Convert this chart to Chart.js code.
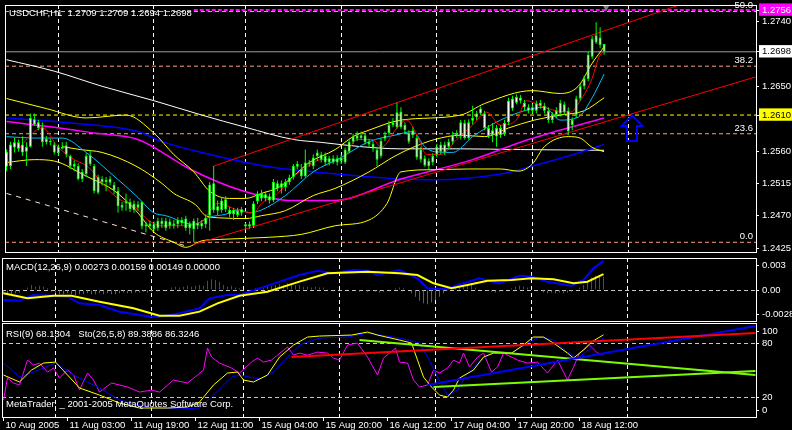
<!DOCTYPE html>
<html>
<head>
<meta charset="utf-8">
<title>USDCHF,H1</title>
<script src="https://cdn.jsdelivr.net/npm/chart.js@4.4.1/dist/chart.umd.min.js"></script>
<style>
  html, body { margin: 0; padding: 0; background: #000; }
  body { width: 792px; height: 430px; position: relative; overflow: hidden; }
  canvas { position: absolute; left: 0; }
</style>
</head>
<body>
<canvas id="mainChart" width="792" height="257" style="top:0"></canvas>
<canvas id="macdChart" width="792" height="65" style="top:257px"></canvas>
<canvas id="rsiChart" width="792" height="108" style="top:322px"></canvas>
<script>
// ---- data (bar index 0 = 10 Aug 2005, hourly bars) ----
const SYMBOL = "USDCHF", PERIOD = "H1";
const TIME_LABELS = ["10 Aug 2005", "11 Aug 03:00", "11 Aug 19:00", "12 Aug 11:00", "15 Aug 04:00",
  "15 Aug 20:00", "16 Aug 12:00", "17 Aug 04:00", "17 Aug 20:00", "18 Aug 12:00"];
const LABEL_BARS = [0, 16, 32, 48, 64, 80, 96, 112, 128, 144];
const DAY_BREAKS = [13, 37, 60, 84, 108, 132, 156];

const OPEN = [
  1.2538, 1.2539, 1.2572, 1.2563, 1.2569, 1.2559, 1.2566, 1.2604, 1.2600, 1.2593,
  1.2572, 1.2574, 1.2569, 1.2557, 1.2566, 1.2568, 1.2553, 1.2542, 1.2539, 1.2521,
  1.2528, 1.2554, 1.2539, 1.2502, 1.2521, 1.2517, 1.2521, 1.2513, 1.2505, 1.2481,
  1.2487, 1.2489, 1.2478, 1.2481, 1.2489, 1.2455, 1.2459, 1.2451, 1.2453, 1.2463,
  1.2453, 1.2462, 1.2456, 1.2458, 1.2464, 1.2466, 1.2453, 1.2451, 1.2460, 1.2455,
  1.2458, 1.2470, 1.2515, 1.2477, 1.2478, 1.2493, 1.2478, 1.2472, 1.2477, 1.2474,
  1.2458, 1.2455, 1.2456, 1.2490, 1.2501, 1.2494, 1.2497, 1.2491, 1.2515, 1.2509,
  1.2510, 1.2517, 1.2524, 1.2542, 1.2535, 1.2525, 1.2542, 1.2539, 1.2553, 1.2555,
  1.2553, 1.2544, 1.2550, 1.2544, 1.2551, 1.2544, 1.2559, 1.2573, 1.2577, 1.2582,
  1.2582, 1.2573, 1.2570, 1.2562, 1.2553, 1.2577, 1.2585, 1.2596, 1.2593, 1.2615,
  1.2596, 1.2585, 1.2582, 1.2578, 1.2562, 1.2550, 1.2539, 1.2544, 1.2555, 1.2559,
  1.2569, 1.2566, 1.2573, 1.2582, 1.2580, 1.2599, 1.2578, 1.2602, 1.2607, 1.2612,
  1.2612, 1.2592, 1.2582, 1.2592, 1.2582, 1.2585, 1.2600, 1.2619, 1.2627, 1.2634,
  1.2627, 1.2621, 1.2616, 1.2616, 1.2627, 1.2623, 1.2616, 1.2603, 1.2610, 1.2612,
  1.2625, 1.2616, 1.2596, 1.2610, 1.2633, 1.2650, 1.2660, 1.2691, 1.2711, 1.2718,
  1.2709];
const HIGH = [
  1.2562, 1.2573, 1.2578, 1.2576, 1.2580, 1.2572, 1.2612, 1.2612, 1.2603, 1.2600,
  1.2581, 1.2577, 1.2572, 1.2569, 1.2572, 1.2573, 1.2555, 1.2547, 1.2543, 1.2535,
  1.2557, 1.2561, 1.2542, 1.2527, 1.2525, 1.2524, 1.2525, 1.2517, 1.2510, 1.2489,
  1.2501, 1.2494, 1.2491, 1.2490, 1.2490, 1.2462, 1.2463, 1.2462, 1.2467, 1.2467,
  1.2467, 1.2466, 1.2464, 1.2468, 1.2468, 1.2470, 1.2462, 1.2466, 1.2467, 1.2464,
  1.2472, 1.2517, 1.2539, 1.2491, 1.2496, 1.2497, 1.2482, 1.2481, 1.2481, 1.2482,
  1.2460, 1.2462, 1.2490, 1.2504, 1.2506, 1.2504, 1.2501, 1.2521, 1.2519, 1.2519,
  1.2521, 1.2527, 1.2542, 1.2546, 1.2542, 1.2562, 1.2548, 1.2555, 1.2562, 1.2559,
  1.2558, 1.2553, 1.2554, 1.2554, 1.2555, 1.2565, 1.2577, 1.2584, 1.2587, 1.2587,
  1.2585, 1.2577, 1.2574, 1.2566, 1.2578, 1.2587, 1.2602, 1.2606, 1.2627, 1.2621,
  1.2600, 1.2589, 1.2593, 1.2582, 1.2566, 1.2554, 1.2550, 1.2557, 1.2570, 1.2573,
  1.2573, 1.2577, 1.2587, 1.2589, 1.2603, 1.2603, 1.2604, 1.2623, 1.2616, 1.2622,
  1.2616, 1.2596, 1.2599, 1.2596, 1.2596, 1.2603, 1.2634, 1.2637, 1.2639, 1.2638,
  1.2631, 1.2625, 1.2625, 1.2630, 1.2631, 1.2627, 1.2621, 1.2614, 1.2621, 1.2631,
  1.2629, 1.2621, 1.2607, 1.2637, 1.2654, 1.2665, 1.2698, 1.2720, 1.2739, 1.2732,
  1.2709];
const LOW = [
  1.2532, 1.2535, 1.2558, 1.2559, 1.2553, 1.2539, 1.2565, 1.2595, 1.2589, 1.2566,
  1.2569, 1.2568, 1.2555, 1.2553, 1.2562, 1.2551, 1.2535, 1.2532, 1.2519, 1.2517,
  1.2524, 1.2539, 1.2501, 1.2500, 1.2512, 1.2504, 1.2512, 1.2500, 1.2474, 1.2477,
  1.2477, 1.2475, 1.2474, 1.2477, 1.2451, 1.2447, 1.2451, 1.2448, 1.2449, 1.2453,
  1.2449, 1.2452, 1.2452, 1.2453, 1.2456, 1.2449, 1.2444, 1.2433, 1.2451, 1.2451,
  1.2453, 1.2449, 1.2474, 1.2471, 1.2474, 1.2475, 1.2468, 1.2464, 1.2468, 1.2470,
  1.2452, 1.2452, 1.2453, 1.2486, 1.2490, 1.2490, 1.2487, 1.2489, 1.2504, 1.2501,
  1.2504, 1.2513, 1.2520, 1.2535, 1.2521, 1.2523, 1.2538, 1.2535, 1.2546, 1.2544,
  1.2540, 1.2540, 1.2542, 1.2540, 1.2542, 1.2542, 1.2557, 1.2570, 1.2574, 1.2576,
  1.2569, 1.2565, 1.2559, 1.2539, 1.2550, 1.2574, 1.2582, 1.2593, 1.2591, 1.2591,
  1.2585, 1.2570, 1.2578, 1.2548, 1.2544, 1.2538, 1.2535, 1.2540, 1.2551, 1.2555,
  1.2554, 1.2562, 1.2569, 1.2578, 1.2576, 1.2576, 1.2576, 1.2597, 1.2603, 1.2610,
  1.2589, 1.2578, 1.2572, 1.2566, 1.2578, 1.2581, 1.2596, 1.2616, 1.2625, 1.2626,
  1.2616, 1.2612, 1.2612, 1.2612, 1.2619, 1.2612, 1.2599, 1.2599, 1.2606, 1.2608,
  1.2610, 1.2582, 1.2589, 1.2606, 1.2630, 1.2646, 1.2657, 1.2688, 1.2709, 1.2703,
  1.2694];
const CLOSE = [
  1.2559, 1.2569, 1.2565, 1.2572, 1.2558, 1.2566, 1.2606, 1.2597, 1.2592, 1.2572,
  1.2577, 1.2572, 1.2558, 1.2566, 1.2563, 1.2555, 1.2539, 1.2538, 1.2521, 1.2531,
  1.2553, 1.2542, 1.2504, 1.2524, 1.2517, 1.2520, 1.2516, 1.2505, 1.2483, 1.2485,
  1.2490, 1.2479, 1.2487, 1.2486, 1.2455, 1.2458, 1.2455, 1.2458, 1.2463, 1.2458,
  1.2463, 1.2456, 1.2459, 1.2464, 1.2460, 1.2453, 1.2459, 1.2463, 1.2456, 1.2460,
  1.2467, 1.2513, 1.2478, 1.2483, 1.2491, 1.2479, 1.2472, 1.2478, 1.2471, 1.2479,
  1.2455, 1.2458, 1.2487, 1.2501, 1.2494, 1.2500, 1.2491, 1.2517, 1.2508, 1.2515,
  1.2517, 1.2523, 1.2539, 1.2538, 1.2525, 1.2544, 1.2544, 1.2551, 1.2558, 1.2548,
  1.2544, 1.2550, 1.2544, 1.2550, 1.2546, 1.2562, 1.2573, 1.2580, 1.2582, 1.2578,
  1.2572, 1.2569, 1.2563, 1.2548, 1.2574, 1.2582, 1.2597, 1.2600, 1.2614, 1.2593,
  1.2589, 1.2573, 1.2589, 1.2551, 1.2548, 1.2540, 1.2546, 1.2553, 1.2566, 1.2569,
  1.2558, 1.2573, 1.2582, 1.2585, 1.2600, 1.2578, 1.2600, 1.2606, 1.2612, 1.2619,
  1.2592, 1.2581, 1.2589, 1.2580, 1.2592, 1.2599, 1.2630, 1.2633, 1.2635, 1.2630,
  1.2621, 1.2616, 1.2621, 1.2626, 1.2623, 1.2616, 1.2603, 1.2610, 1.2616, 1.2627,
  1.2614, 1.2587, 1.2603, 1.2633, 1.2650, 1.2661, 1.2694, 1.2716, 1.2721, 1.2707,
  1.2698];

// moving averages / bands on the price panel: [bar index], [price]
const MA_WHITE_X = [0, 12, 24, 37, 49, 60, 72, 79, 89, 99, 114, 129, 150];
const MA_WHITE_Y = [1.2687, 1.2671, 1.2650, 1.2630, 1.2610, 1.2593, 1.2576, 1.2572, 1.2566, 1.2563, 1.2563, 1.2562, 1.2561];
const MA_BLUE_X = [0, 16, 33, 39, 49, 66, 83, 99, 108, 124, 132, 141, 150];
const MA_BLUE_Y = [1.2606, 1.2599, 1.2587, 1.2573, 1.2558, 1.2538, 1.2528, 1.2521, 1.2520, 1.2528, 1.2539, 1.2553, 1.2569];
const MA_MAGENTA_X = [0, 12, 22, 33, 46, 59, 72, 82, 99, 117, 131, 150];
const MA_MAGENTA_Y = [1.2601, 1.2593, 1.2585, 1.2576, 1.2535, 1.2505, 1.2491, 1.2491, 1.2521, 1.2548, 1.2576, 1.2606];
const BAND_UP_X = [0, 10, 20, 30, 37, 42, 47, 51, 56, 60, 64, 68.5, 72, 76, 82.5, 87, 91, 99, 114, 120, 132, 139, 143.5, 147, 150];
const BAND_UP_Y = [1.2633, 1.2619, 1.2606, 1.2610, 1.2585, 1.2555, 1.2531, 1.2504, 1.2494, 1.2494, 1.2501, 1.2510, 1.2525,
  1.2544, 1.2562, 1.2580, 1.2589, 1.2603, 1.2610, 1.2626, 1.2644, 1.2640, 1.2650, 1.2682, 1.2705];
const BAND_MID_X = [14, 18.5, 24, 32.5, 39, 42, 47.5, 50, 53.5, 60, 64, 70, 77, 82.5, 91, 97.5, 102, 107.5, 114, 120, 126, 132.5, 139, 145, 150];
const BAND_MID_Y = [1.2566, 1.2562, 1.2558, 1.2539, 1.2515, 1.2501, 1.2485, 1.2470, 1.2467, 1.2466, 1.2470, 1.2477, 1.2498,
  1.2508, 1.2531, 1.2553, 1.2565, 1.2576, 1.2582, 1.2580, 1.2592, 1.2603, 1.2610, 1.2616, 1.2634];
const BAND_LOW_X = [0, 7, 12, 20, 27, 32.5, 37, 42, 45, 49, 53.5, 66, 74, 82.5, 91, 95.5, 99, 107.5, 116, 124, 128.5, 132, 135, 141, 144, 147, 150];
const BAND_LOW_Y = [1.2544, 1.2548, 1.2546, 1.2525, 1.2505, 1.2477, 1.2447, 1.2433, 1.2426, 1.2435, 1.2437, 1.2440, 1.2444,
  1.2456, 1.2464, 1.2487, 1.2531, 1.2534, 1.2535, 1.2535, 1.2532, 1.2542, 1.2566, 1.2580, 1.2578, 1.2565, 1.2559];
const MA_CYAN_X = [0, 7, 14, 20, 27, 32.5, 37, 40, 47, 51, 55, 58.5, 61, 64, 70, 77, 84, 91, 97.5, 102, 105, 107.5, 112, 117, 124, 130, 135, 139, 143.5, 147, 150];
const MA_CYAN_Y = [1.2580, 1.2578, 1.2578, 1.2558, 1.2525, 1.2498, 1.2474, 1.2470, 1.2458, 1.2468, 1.2472, 1.2478, 1.2474,
  1.2478, 1.2498, 1.2531, 1.2551, 1.2573, 1.2582, 1.2587, 1.2566, 1.2559, 1.2558, 1.2580, 1.2603, 1.2616, 1.2621, 1.2603,
  1.2607, 1.2634, 1.2667];
const MA_RED_X = [3, 6, 9, 13, 17, 20.5, 24, 28, 32, 35.5, 39, 44, 49, 53, 58, 62, 64, 68, 72, 75.5, 79, 84, 88, 92, 94, 98,
  100.5, 103, 105.5, 109, 113, 117, 120.5, 124, 128, 130.5, 134, 138, 141.5, 144, 147, 148.5, 150];
const MA_RED_Y = [1.2562, 1.2582, 1.2592, 1.2565, 1.2548, 1.2538, 1.2515, 1.2494, 1.2483, 1.2464, 1.2456, 1.2456, 1.2462,
  1.2487, 1.2478, 1.2474, 1.2487, 1.2501, 1.2524, 1.2538, 1.2548, 1.2548, 1.2576, 1.2576, 1.2565, 1.2592, 1.2603, 1.2582,
  1.2555, 1.2555, 1.2576, 1.2596, 1.2614, 1.2596, 1.2603, 1.2630, 1.2623, 1.2616, 1.2614, 1.2630, 1.2661, 1.2688, 1.2701];

// drawn objects: [bar0, price0, bar1, price1]
const CHANNEL_UP = [52, 1.2539, 175, 1.2775];
const CHANNEL_LOW = [47, 1.2430, 188, 1.2663];
const OLD_TREND = [0, 1.2501, 45, 1.2428];
const FIB_LEVELS = [0.0, 23.6, 38.2, 50.0];
const FIB_PRICES = [1.2433, 1.2584, 1.2678, 1.2754];
const SUPPORT = 1.2610, BID = 1.2698, ALERT = 1.2756, ALERT_FROM = 47;
const ARROW_BAR = 157, ARROW_PRICE = 1.2592;
const SHIFT_BAR = 150.5, SHIFT_PRICE = 1.2760;
const PRICE_TICKS = [1.2425, 1.2470, 1.2515, 1.2560, 1.2650, 1.2740];
const MARKER_PRICES = [1.2610, 1.2698, 1.2756];
const MARKER_BG = ["#ffff00", "#ffffff", "#ff00ff"];
const MARKER_FG = ["#000000", "#000000", "#ffffff"];

// MACD(12,26,9)
const MACD_INFO = [0.00273, 0.00159, 0.00149, 0.00000];
const MACD_X = [0, 4, 7.5, 12, 16, 19, 24, 29, 34, 37, 39, 44, 49, 51.5, 56, 59, 64, 69, 74, 78.5, 82.5, 87.5, 91, 93.5, 99,
  103.5, 106, 111, 113.5, 119, 124, 129, 132, 136, 142, 145, 147.5, 150];
const MACD_Y = [-0.0012, -0.0013, -0.0006, -0.0007, -0.0008, -0.0016, -0.0018, -0.0026, -0.0030, -0.0032, -0.0032, -0.0028,
  -0.0022, -0.0010, -0.0006, -0.0006, 0.0002, 0.0010, 0.0018, 0.0023, 0.0020, 0.0024, 0.0023, 0.0018, 0.0024, 0.0014,
  0.0002, 0.0001, 0.0006, 0.0014, 0.0008, 0.0017, 0.0016, 0.0010, 0.0005, 0.0012, 0.0026, 0.0035];
const SIGNAL_X = [0, 6, 12.5, 17, 24, 32.5, 39, 44, 49, 53.5, 59, 66, 74, 81, 91, 99, 103.5, 107.5, 112, 116, 121, 127, 132,
  137.5, 142.5, 146, 150];
const SIGNAL_Y = [-0.0004, -0.0010, -0.0007, -0.0007, -0.0014, -0.0022, -0.0031, -0.0031, -0.0026, -0.0016, -0.0007, -0.0002,
  0.0010, 0.0020, 0.0022, 0.0020, 0.0018, 0.0008, 0.0002, 0.0006, 0.0011, 0.0012, 0.0014, 0.0013, 0.0008, 0.0010, 0.0019];
const HIST = [
  -0.0005, -0.0006, -0.0005, -0.0004, -0.0003, 0.0001, 0.0003, 0.0006, 0.0004, 0.0005,
  0.0004, 0.0002, -0.0002, -0.0004, -0.0005, -0.0005, -0.0004, -0.0005, -0.0006, -0.0005,
  -0.0005, -0.0004, -0.0005, -0.0005, -0.0004, -0.0005, -0.0004, -0.0005, -0.0005, -0.0004,
  -0.0003, -0.0004, -0.0004, -0.0003, -0.0003, -0.0002, -0.0003, -0.0002, -0.0001, 0.0000,
  0.0001, 0.0001, 0.0003, 0.0004, 0.0003, 0.0004, 0.0005, 0.0004, 0.0005, 0.0006,
  0.0005, 0.0011, 0.0013, 0.0012, 0.0010, 0.0006, 0.0004, 0.0005, 0.0003, 0.0002,
  0.0001, 0.0000, 0.0001, 0.0002, 0.0003, 0.0002, 0.0004, 0.0005, 0.0006, 0.0007,
  0.0006, 0.0008, 0.0007, 0.0006, 0.0006, 0.0004, 0.0004, 0.0003, 0.0004, 0.0003,
  0.0003, 0.0001, 0.0000, 0.0001, 0.0000, 0.0000, 0.0001, 0.0000, -0.0001, -0.0002,
  -0.0001, -0.0002, -0.0001, -0.0002, -0.0003, -0.0002, 0.0000, 0.0001, 0.0002, 0.0003,
  0.0002, 0.0000, -0.0004, -0.0008, -0.0013, -0.0016, -0.0017, -0.0015, -0.0012, -0.0008,
  -0.0004, -0.0001, 0.0002, 0.0004, 0.0003, 0.0005, 0.0006, 0.0008, 0.0003, 0.0001,
  0.0000, -0.0001, -0.0002, -0.0003, -0.0002, -0.0001, 0.0001, 0.0002, 0.0004, 0.0005,
  0.0004, 0.0003, 0.0001, 0.0000, -0.0001, -0.0003, -0.0004, -0.0003, -0.0004, -0.0003,
  -0.0004, -0.0003, -0.0002, 0.0001, 0.0003, 0.0006, 0.0011, 0.0015, 0.0017, 0.0018,
  0.0016];
const MACD_TICKS = [-0.00288, 0, 0.003];
const MACD_TICK_TEXT = ["-0.00288", "0.00", "0.003"];

// RSI(9) and Stochastic(26,5,8)
const RSI_INFO = "RSI(9) 68.1304   Sto(26,5,8) 89.3886 86.3246";
const RSI_X = [0, 1, 2.5, 4, 6, 7.5, 9, 11, 12.5, 14, 16, 17.5, 19, 21, 22.5, 24, 27, 31, 34, 37, 39, 42.5, 46, 48.5, 50, 51,
  52, 54, 57, 59, 62, 63.5, 65, 67, 68.5, 71, 72.5, 74, 76, 78.5, 81, 82.5, 84, 86, 88.5, 91, 93.5, 95, 98, 99, 101, 102.5,
  104, 106, 107.5, 109, 111, 112.5, 114, 115, 116.5, 118.5, 120, 122, 123.5, 125, 127, 128.5, 131, 133.5, 136, 138.5, 141,
  142.5, 144, 146.5, 148.5, 150];
const RSI_Y = [17.4, 41.7, 36.2, 34.0, 61.5, 56.0, 58.2, 48.3, 52.7, 41.7, 50.5, 45.0, 28.4, 47.2, 39.5, 26.2, 36.2, 31.8,
  26.2, 28.4, 26.2, 39.5, 36.2, 45.0, 50.5, 74.7, 64.8, 58.2, 52.7, 47.2, 59.3, 63.7, 59.3, 61.5, 67.0, 75.9, 67.0, 69.2,
  67.0, 70.3, 69.2, 63.7, 61.5, 78.1, 80.3, 64.8, 45.0, 63.7, 74.7, 59.3, 58.2, 39.5, 31.8, 34.0, 50.5, 47.2, 52.7, 61.5,
  58.2, 69.2, 53.8, 64.8, 69.2, 48.3, 53.8, 69.2, 64.8, 61.5, 58.2, 59.3, 47.2, 61.5, 39.5, 53.8, 69.2, 78.1, 69.2, 68.1];
const STO_X = [0, 4, 7, 10, 13, 16, 19, 24, 29, 34, 41, 46, 49, 52.5, 56, 58.5, 60, 62.5, 66, 69, 72.5, 76, 79, 87, 91, 93.5,
  99, 102, 103.5, 105, 107, 109, 111, 112.5, 114, 117.5, 120, 122.5, 127, 130, 132.5, 135, 137.5, 141, 142.5, 145, 147, 150];
const STO_Y = [45.0, 37.3, 50.5, 58.2, 59.3, 45.0, 30.7, 22.9, 14.1, 8.6, 8.6, 9.7, 15.2, 34.0, 47.2, 48.3, 39.5, 37.3, 45.0,
  64.8, 78.1, 86.9, 88.0, 89.1, 92.4, 89.1, 83.6, 80.3, 61.5, 42.8, 31.8, 22.9, 20.7, 28.4, 41.7, 50.5, 64.8, 69.2, 69.2,
  78.1, 86.9, 86.9, 80.3, 69.2, 63.7, 72.6, 81.4, 89.4];
const STO_SIG_X = [0, 4, 7.5, 13, 17.5, 24, 29, 36, 44, 49, 52.5, 57, 59, 64, 67.5, 71, 74, 79, 86, 91, 99, 104, 106, 108.5,
  111, 113.5, 116, 118.5, 122, 127, 131, 134, 137.5, 141, 143.5, 147, 150];
const STO_SIG_Y = [58.2, 42.8, 48.3, 58.2, 45.0, 30.7, 17.4, 9.7, 7.5, 8.6, 22.9, 42.8, 45.0, 40.6, 48.3, 64.8, 78.1, 85.8,
  86.9, 91.3, 85.8, 80.3, 64.8, 42.8, 22.9, 28.4, 47.2, 58.2, 69.2, 69.2, 80.3, 86.9, 83.6, 70.3, 63.7, 74.7, 86.3];
const RSI_TREND_RED = [72, 64.8, 188, 91.3];
const RSI_TREND_BLUE = [106, 34.0, 188, 99.0];
const RSI_TREND_GREEN_A = [89, 83.6, 188, 45.0];
const RSI_TREND_GREEN_B = [107.5, 31.8, 188, 49.4];
const RSI_LEVELS = [20, 80];
const RSI_LABEL_AT = [6.4, 20, 80, 93.5];   // MT4 puts "0" and "100" inside the panel
const RSI_LABEL_TEXT = ["0", "20", "80", "100"];
const COPYRIGHT = "MetaTrader, _ 2001-2005 MetaQuotes Software Corp.";

// ---- layout / helpers ----
const XMIN = -0.375, XMAX = 188.125;
const AXIS_W = 36;
const FONT = { family: "Liberation Sans", size: 9.5 };
const CSS_FONT = "9.5px 'Liberation Sans'";
const LIME = "#00ff00", FIB = "#ff9f7a";
Chart.defaults.font.family = "Liberation Sans";
Chart.defaults.font.size = 9.5;

const last = CLOSE.length - 1;
const p4 = v => v.toFixed(4);
const pts = (xs, ys) => xs.map((x, i) => ({ x: x, y: ys[i] }));
const seg = s => [{ x: s[0], y: s[1] }, { x: s[2], y: s[3] }];
const hline = (y, x0) => [{ x: x0 === undefined ? XMIN : x0, y: y }, { x: XMAX, y: y }];

function line(data, color, width, dash, smooth, order) {
  return {
    type: "line", data: data, borderColor: color, borderWidth: width || 1, borderDash: dash || [],
    pointRadius: 0, fill: false, tension: 0, cubicInterpolationMode: smooth ? "monotone" : "default",
    order: order === undefined ? 3 : order
  };
}

// one histogram column per bar; the sign picks the dataset (and so the colour)
function histBars(keep, color) {
  return {
    type: "bar", data: HIST.map((v, i) => ({ x: i, y: keep(v) ? v : null })),
    backgroundColor: color, borderColor: color, borderWidth: 0, barThickness: 1,
    grouped: false, inflateAmount: 0, order: 2
  };
}

function gridX() {
  return {
    type: "linear", min: XMIN, max: XMAX, offset: false,
    afterBuildTicks: s => { s.ticks = DAY_BREAKS.map(v => ({ value: v })); },
    afterFit: s => { s.height = 0; s.paddingLeft = 0; s.paddingRight = 0; },
    ticks: { display: false },
    grid: { color: "#ffffff", lineWidth: 1, drawTicks: false, offset: false },
    border: { display: false, dash: [4, 3] }
  };
}

function fitY(s) { s.width = AXIS_W; s.paddingTop = 0; s.paddingBottom = 0; }

const frame = {
  id: "frame",
  afterDraw(chart) {
    const a = chart.chartArea, c = chart.ctx;
    c.save();
    c.strokeStyle = "#ffffff";
    c.lineWidth = 1;
    c.strokeRect(a.left + 0.5, a.top + 0.5, a.right - a.left, a.bottom - a.top);
    c.restore();
  }
};

const notes = {
  id: "notes",
  afterDraw(chart) {
    const items = chart.options.plugins.notes || [];
    const a = chart.chartArea, c = chart.ctx;
    c.save();
    c.font = CSS_FONT;
    c.fillStyle = "#ffffff";
    c.textBaseline = "middle";
    c.textAlign = "left";
    items.forEach(it => c.fillText(it.text, a.left + it.dx, a.top + it.dy));
    c.restore();
  }
};

const fibText = {
  id: "fibText",
  afterDatasetsDraw(chart) {
    const ys = chart.scales.y, a = chart.chartArea, c = chart.ctx;
    c.save();
    c.font = CSS_FONT;
    c.fillStyle = "#ffffff";
    c.textAlign = "right";
    c.textBaseline = "bottom";
    FIB_LEVELS.forEach((lv, i) => c.fillText(lv.toFixed(1), a.right - 3, ys.getPixelForValue(FIB_PRICES[i]) - 1));
    c.restore();
  }
};

function arrowImage() {
  const cv = document.createElement("canvas");
  cv.width = 24; cv.height = 28;
  const g = cv.getContext("2d");
  g.strokeStyle = "#0000ff";
  g.lineWidth = 2;
  g.beginPath();
  g.moveTo(12, 1.5); g.lineTo(22.5, 12); g.lineTo(17, 12); g.lineTo(17, 27);
  g.lineTo(7, 27); g.lineTo(7, 12); g.lineTo(1.5, 12); g.closePath();
  g.stroke();
  return cv;
}

const markerIdx = v => MARKER_PRICES.findIndex(m => Math.abs(m - v) < 1e-7);

// ---- price panel ----
const bars = OPEN.map((o, i) => i);
new Chart(document.getElementById("mainChart"), {
  type: "bar",
  data: {
    datasets: [
      { type: "scatter", data: [{ x: ARROW_BAR, y: ARROW_PRICE }], pointStyle: arrowImage(), pointRadius: 1, clip: false, order: -2 },
      { type: "scatter", data: [{ x: SHIFT_BAR, y: SHIFT_PRICE }], pointStyle: "triangle", rotation: 180, pointRadius: 4,
        backgroundColor: "#808080", borderColor: "#808080", borderWidth: 0, clip: false, order: -2 },
      { label: "body", data: bars.map(i => ({ x: i, y: [OPEN[i], CLOSE[i]] })), backgroundColor: "#ffffff",
        borderColor: LIME, borderWidth: 1, borderSkipped: false, barThickness: 3, minBarLength: 1,
        grouped: false, inflateAmount: 0, order: 0 },
      { label: "wick", data: bars.map(i => ({ x: i, y: [LOW[i], HIGH[i]] })), backgroundColor: LIME,
        borderWidth: 0, barThickness: 1, grouped: false, inflateAmount: 0, order: 1 },
      line(pts(MA_RED_X, MA_RED_Y), "#ff0000", 1, null, true, 2),
      line(pts(MA_CYAN_X, MA_CYAN_Y), "#00bfff", 1, null, true, 3),
      line(pts(BAND_UP_X, BAND_UP_Y), "#ffff00", 1, null, true, 3),
      line(pts(BAND_MID_X, BAND_MID_Y), "#ffff00", 1, null, true, 3),
      line(pts(BAND_LOW_X, BAND_LOW_Y), "#ffff00", 1, null, true, 3),
      line(pts(MA_MAGENTA_X, MA_MAGENTA_Y), "#ff00ff", 1.5, null, true, 3),
      line(pts(MA_BLUE_X, MA_BLUE_Y), "#0000ff", 1.5, null, true, 3),
      line(pts(MA_WHITE_X, MA_WHITE_Y), "#ffffff", 1, null, true, 3),
      line(seg(CHANNEL_UP), "#ff0000", 1, null, false, 2),
      line(seg(CHANNEL_LOW), "#ff0000", 1, null, false, 2),
      line(seg(OLD_TREND), "#ffe0d0", 1, [5, 5], false, 4),
      line(hline(BID), "#8fa0b0", 1, null, false, 5),
      line(hline(SUPPORT), "#ffff00", 1, [4, 3], false, 5),
      line(hline(ALERT, ALERT_FROM), "#ff00ff", 2, [4, 2], false, 5),
      ...FIB_PRICES.map(p => line(hline(p), FIB, 1, [4, 3], false, 6))
    ]
  },
  options: {
    responsive: false, animation: false, devicePixelRatio: 1,
    layout: { padding: { left: 2, top: 2, right: 0, bottom: 2 } },
    plugins: {
      legend: { display: false }, tooltip: { enabled: false }, colors: { enabled: false },
      notes: [{ text: `${SYMBOL},${PERIOD}  ${p4(OPEN[last])} ${p4(HIGH[last])} ${p4(LOW[last])} ${p4(CLOSE[last])}`, dx: 4, dy: 8.5 }]
    },
    scales: {
      x: gridX(),
      y: {
        position: "right", min: 1.24195, max: 1.27631,
        afterBuildTicks: s => {
          s.ticks = PRICE_TICKS.concat(MARKER_PRICES).sort((a, b) => a - b).map(v => ({ value: v }));
        },
        afterFit: fitY,
        ticks: {
          font: FONT, padding: 3, autoSkip: false,
          callback: v => p4(v),
          color: ctx => { const k = markerIdx(ctx.tick.value); return k < 0 ? "#ffffff" : MARKER_FG[k]; },
          showLabelBackdrop: ctx => markerIdx(ctx.tick.value) >= 0,
          backdropColor: ctx => { const k = markerIdx(ctx.tick.value); return k < 0 ? "transparent" : MARKER_BG[k]; },
          backdropPadding: { left: 3, right: 6, top: 1, bottom: 0 }
        },
        grid: { drawOnChartArea: false, tickLength: 3, color: "#ffffff" },
        border: { display: false }
      }
    }
  },
  plugins: [frame, notes, fibText]
});

// ---- MACD panel ----
new Chart(document.getElementById("macdChart"), {
  type: "bar",
  data: {
    datasets: [
      line(pts(MACD_X, MACD_Y), "#0000ff", 2, null, false, 1),
      line(pts(SIGNAL_X, SIGNAL_Y), "#ffff00", 2, null, false, 0),
      histBars(v => v > 0, "#ff0000"),
      histBars(v => v < 0, "#00a000")
    ]
  },
  options: {
    responsive: false, animation: false, devicePixelRatio: 1,
    layout: { padding: { left: 2, top: 1, right: 0, bottom: 1 } },
    plugins: {
      legend: { display: false }, tooltip: { enabled: false }, colors: { enabled: false },
      notes: [{ text: "MACD(12,26,9) " + MACD_INFO.map(v => v.toFixed(5)).join(" "), dx: 4, dy: 9 }]
    },
    scales: {
      x: gridX(),
      y: {
        position: "right", min: -0.00372, max: 0.00384,
        afterBuildTicks: s => { s.ticks = MACD_TICKS.map(v => ({ value: v })); },
        afterFit: fitY,
        ticks: { font: FONT, padding: 3, autoSkip: false, color: "#ffffff", callback: (v, i) => MACD_TICK_TEXT[i] },
        grid: { color: ctx => (ctx.tick && ctx.tick.value === 0 ? "#c8c8c8" : "transparent"), tickColor: "#ffffff",
          tickLength: 3, tickBorderDash: [] },
        border: { display: false, dash: [4, 3] }
      }
    }
  },
  plugins: [frame, notes]
});

// ---- RSI / Stochastic panel ----
new Chart(document.getElementById("rsiChart"), {
  type: "line",
  data: {
    datasets: [
      line(seg(RSI_TREND_RED), "#ff0000", 2, null, false, 1),
      line(seg(RSI_TREND_BLUE), "#0000ff", 2, null, false, 1),
      line(seg(RSI_TREND_GREEN_A), "#7cfc00", 2, null, false, 1),
      line(seg(RSI_TREND_GREEN_B), "#7cfc00", 2, null, false, 1),
      line(pts(STO_X, STO_Y), "#ffff00", 1, null, false, 2),
      line(pts(STO_SIG_X, STO_SIG_Y), "#0000ff", 1, null, false, 2),
      line(pts(RSI_X, RSI_Y), "#ff00ff", 1, null, false, 3)
    ]
  },
  options: {
    responsive: false, animation: false, devicePixelRatio: 1,
    layout: { padding: { left: 2, top: 1, right: 0, bottom: 0 } },
    plugins: {
      legend: { display: false }, tooltip: { enabled: false }, colors: { enabled: false },
      notes: [{ text: RSI_INFO, dx: 4, dy: 11 }, { text: COPYRIGHT, dx: 4, dy: 81 }]
    },
    scales: {
      x: gridX(),
      xl: {
        type: "linear", position: "bottom", min: XMIN, max: XMAX, offset: false,
        afterBuildTicks: s => { s.ticks = LABEL_BARS.map(v => ({ value: v })); },
        afterFit: s => { s.height = 13; s.paddingLeft = 0; s.paddingRight = 0; },
        ticks: { color: "#ffffff", font: FONT, align: "start", autoSkip: false, maxRotation: 0, minRotation: 0,
          padding: -1, labelOffset: 2, callback: (v, i) => TIME_LABELS[i] },
        grid: { drawOnChartArea: false, drawTicks: true, tickLength: 4, color: "#ffffff" },
        border: { display: false }
      },
      y: {
        position: "right", min: -1.3, max: 102.4,
        afterBuildTicks: s => { s.ticks = RSI_LABEL_AT.map(v => ({ value: v })); },
        afterFit: fitY,
        ticks: { font: FONT, padding: 3, autoSkip: false, color: "#ffffff", callback: (v, i) => RSI_LABEL_TEXT[i] },
        grid: { color: ctx => (ctx.tick && RSI_LEVELS.includes(ctx.tick.value) ? "#c8c8c8" : "transparent"),
          tickColor: "#ffffff", tickLength: 3, tickBorderDash: [] },
        border: { display: false, dash: [4, 3] }
      }
    }
  },
  plugins: [frame, notes]
});
</script>
</body>
</html>
